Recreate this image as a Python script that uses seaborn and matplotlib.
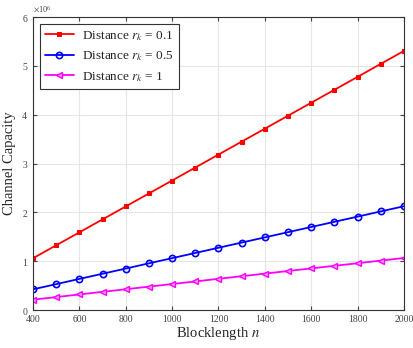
import numpy as np
import pandas as pd
import matplotlib
matplotlib.use("Agg")
import matplotlib.pyplot as plt
import seaborn as sns
from matplotlib.ticker import ScalarFormatter

# blocklength values
blocklength = [400, 500, 600, 700, 800, 900, 1000, 1100, 1200, 1300,
               1400, 1500, 1600, 1700, 1800, 1900, 2000]
# channel capacity
cap_r01 = [1.061e6, 1.327e6, 1.592e6, 1.857e6, 2.122e6, 2.388e6, 2.653e6, 2.918e6,
           3.184e6, 3.449e6, 3.714e6, 3.980e6, 4.245e6, 4.510e6, 4.775e6, 5.041e6, 5.306e6]
cap_r05 = [0.425e6, 0.531e6, 0.638e6, 0.744e6, 0.850e6, 0.957e6, 1.063e6, 1.169e6,
           1.276e6, 1.382e6, 1.488e6, 1.595e6, 1.701e6, 1.807e6, 1.913e6, 2.020e6, 2.126e6]
cap_r1 = [0.213e6, 0.266e6, 0.320e6, 0.373e6, 0.426e6, 0.480e6, 0.533e6, 0.586e6,
          0.640e6, 0.693e6, 0.746e6, 0.800e6, 0.853e6, 0.906e6, 0.959e6, 1.013e6, 1.066e6]
labels = [r"Distance $r_k$ = 0.1", r"Distance $r_k$ = 0.5", r"Distance $r_k$ = 1"]

sns.set_style("whitegrid")
plt.rcParams['font.family'] = ['Liberation Serif', 'DejaVu Serif']
plt.rcParams['mathtext.fontset'] = 'stix'

fig = plt.figure(figsize=(4.13, 3.48), dpi=100)
ax = fig.add_axes([0.08, 0.109, 0.898, 0.842])

sns.lineplot(x=blocklength, y=cap_r01, ax=ax, color='red', marker='s', markersize=3.5,
             markerfacecolor='red', markeredgecolor='red', linewidth=1.3, label=labels[0])
sns.lineplot(x=blocklength, y=cap_r05, ax=ax, color='blue', marker='o', markersize=4.5,
             markerfacecolor='none', markeredgecolor='blue', markeredgewidth=1.2,
             linewidth=1.3, label=labels[1])
sns.lineplot(x=blocklength, y=cap_r1, ax=ax, color='magenta', marker='<', markersize=5,
             markerfacecolor='#ff99ff', markeredgecolor='magenta', markeredgewidth=1.0,
             linewidth=1.3, label=labels[2])

ax.set_xlim(400, 2000)
ax.set_ylim(0, 6e6)
ax.set_xticks(range(400, 2001, 200))
ax.set_yticks(np.arange(0, 6.1e6, 1e6))
fmt = ScalarFormatter(useMathText=True)
fmt.set_powerlimits((0, 0))
ax.yaxis.set_major_formatter(fmt)
ax.yaxis.get_offset_text().set_fontsize(6)
ax.yaxis.get_offset_text().set_color('#444444')

ax.tick_params(direction='in', length=3, labelsize=7, colors='#444444',
               top=True, right=True, bottom=True, left=True)
ax.grid(True, color='#e6e6e6', linewidth=0.8)
for s in ax.spines.values():
    s.set_visible(True)
    s.set_color('#333333')
    s.set_linewidth(0.8)

ax.set_xlabel(r"Blocklength $n$", fontsize=10.5, labelpad=1)
ax.set_ylabel("Channel Capacity", fontsize=10.5, labelpad=4)

leg = ax.legend(loc='upper left', fontsize=9.5, frameon=True, fancybox=False,
                edgecolor='#333333', framealpha=1, handlelength=2.2,
                borderpad=0.4, labelspacing=0.5, handletextpad=0.6,
                bbox_to_anchor=(0.0, 1.0))
leg.get_frame().set_linewidth(0.8)

fig.savefig("out.png", dpi=100)
